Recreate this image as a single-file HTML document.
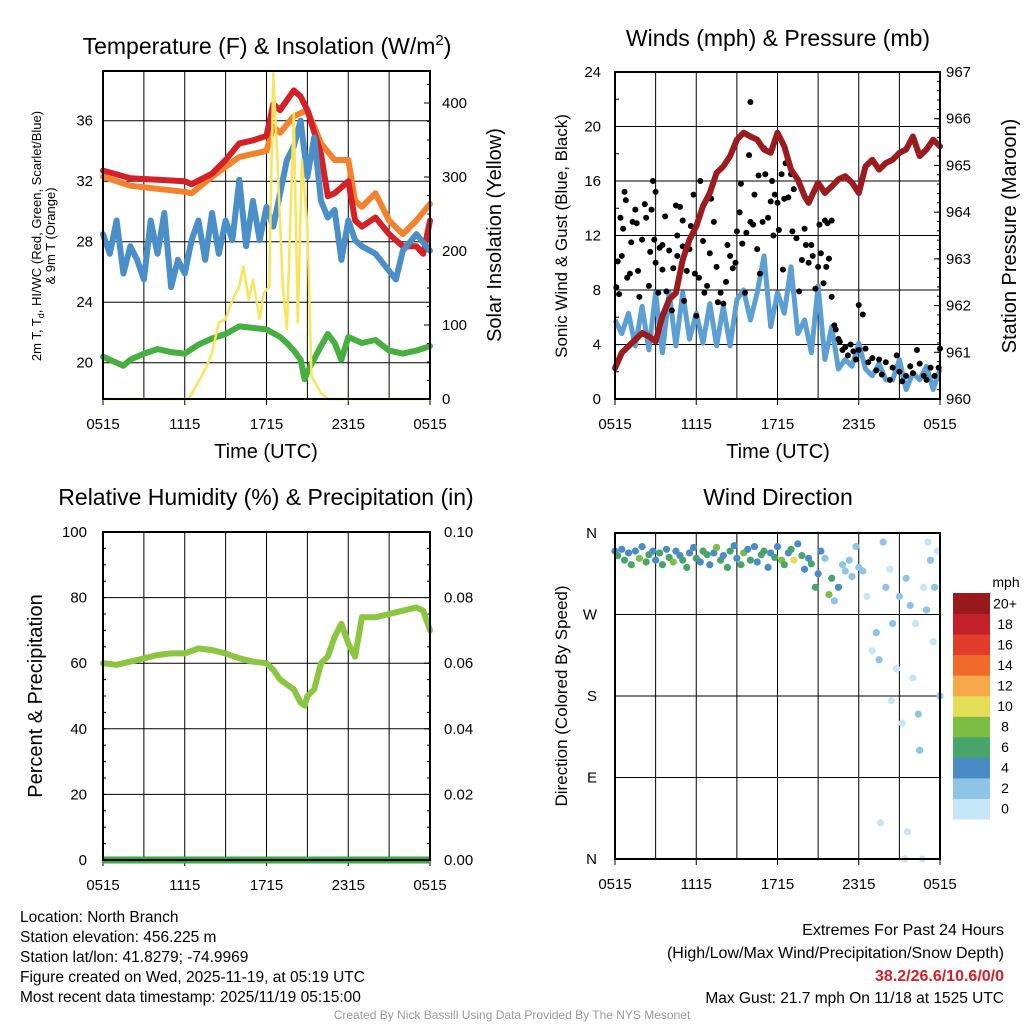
<!DOCTYPE html>
<html><head><meta charset="utf-8">
<style>
html,body{margin:0;padding:0;background:#fff;}
svg{display:block;font-family:"Liberation Sans",sans-serif;}
</style></head>
<body>
<svg id="c" width="1024" height="1024" viewBox="0 0 1024 1024" xmlns="http://www.w3.org/2000/svg"></svg>
<script>
// ---------- Panel 1 data (hour since 0515, value) ----------
const tempHours=[0,2,4,6,6.5,8,9,10,11,12,12.5,13,14,14.5,15,16,16.5,17,18,18.5,19,20,21,22,23,23.5,24];
const tempRed=[32.7,32.2,32.1,32.0,31.8,32.5,33.4,34.5,34.7,35.0,37.1,36.7,38.0,37.6,36.7,33.8,31.0,31.2,32.0,29.4,29.0,29.6,28.5,27.7,27.7,27.2,29.4];
const heatOrangeHours=[0,2,4,6,6.5,8,10,12,12.5,13,14,15,16,17,18,18.5,19,20,21,22,23,24];
const heatOrange=[32.3,31.7,31.5,31.3,31.2,32.3,33.6,34.0,35.6,35.2,36.3,36.7,34.5,33.4,33.4,30.7,30.3,31.2,29.4,28.5,29.4,30.5];
const blueHours=[0,0.5,1,1.5,2,2.5,3,3.5,4,4.5,5,5.5,6,6.5,7,7.5,8,8.5,9,9.5,10,10.5,11,11.5,12,12.5,13,13.5,14,14.5,15,15.5,16,16.5,17,17.5,18,18.5,19,20,21.5,22,23,24];
const blueT=[28.5,27.2,29.4,25.9,27.7,26.8,25.5,29.4,27.2,29.9,25.0,26.8,25.9,28.1,29.4,26.8,29.9,27.2,29.4,28.1,32.1,27.7,30.7,28.1,30.3,29.0,31.2,33.4,34.3,36.0,32.3,34.9,30.7,29.6,30.1,26.8,29.4,28.1,27.7,27.2,25.5,27.4,28.5,27.4];
const greenHours=[0,1,1.5,2,3,4,5,6,7,8,9,10,11,12,13,13.5,14,14.5,14.8,15,16,16.5,17,17.5,18,19,20,21,22,23,24];
const greenT=[20.4,20.0,19.8,20.2,20.6,20.9,20.7,20.6,21.2,21.6,21.9,22.4,22.3,22.2,21.7,21.3,20.8,20.2,18.9,19.4,21.1,21.9,21.3,20.2,21.7,21.3,21.5,20.8,20.6,20.8,21.1];
const solarHours=[0,6.3,6.7,7.5,8,8.5,9,9.5,10,10.3,10.7,11,11.5,11.8,12.2,12.5,12.8,13.2,13.5,14,14.3,14.6,15,15.3,16,16.5,24];
const solarW=[0,0,13,40,62,103,108,134,152,179,134,161,108,143,152,440,323,152,94,386,103,323,233,31,8,0,0];
const p1LeftTicks=[20,24,28,32,36];
const p1RightTicks=[0,100,200,300,400];
const timeTickLabels=["0515","1115","1715","2315","0515"];
// ---------- Panel 2 data ----------
const presHours=[0,0.5,1,2,2.5,3,3.5,4,4.5,5,5.5,6,6.5,7,7.5,8,8.5,9,9.5,10,10.5,11,11.5,12,12.5,13,13.5,14,14.3,15,15.5,16,16.5,17,17.5,18,18.5,19,19.5,20,20.5,21,21.5,22,22.5,23,23.5,24];
const presMb=[960.66,960.99,961.13,961.41,961.34,961.23,961.77,962.13,962.27,962.98,963.41,963.7,964.13,964.41,964.84,964.98,965.2,965.55,965.7,965.62,965.55,965.34,965.27,965.7,965.41,964.91,964.7,964.34,964.2,964.63,964.41,964.55,964.7,964.77,964.63,964.41,964.98,965.12,964.91,965.05,965.12,965.27,965.34,965.62,965.2,965.34,965.55,965.41];
const windHours=[0,0.5,1,1.5,2,2.5,3,3.5,4,4.5,5,5.5,6,6.5,7,7.5,8,8.5,9,9.5,10,10.5,11,11.5,12,12.5,13,13.5,14,14.5,15,15.5,16,16.5,17,17.5,18,18.5,19,19.5,20,20.5,21,21.5,22,22.5,23,23.5,24];
const windMph=[5.8,4.8,6.3,3.9,6.8,3.6,7.8,3.4,7.8,3.9,7.8,4.4,6.3,4.1,7.0,3.9,6.8,3.9,7.3,8.0,5.8,7.8,10.5,5.3,7.8,6.3,9.7,4.8,5.8,3.4,8.3,2.9,5.3,2.2,2.9,2.4,4.1,2.2,1.7,2.6,1.4,1.4,2.9,0.7,1.9,1.4,2.4,0.7,2.2];
const gustHours=[0.1,0.2,0.3,0.4,0.5,0.6,0.7,0.8,0.9,1.1,1.2,1.3,1.5,1.6,1.7,1.8,2,2.2,2.3,2.5,2.6,2.7,2.8,2.9,3,3,3.2,3.3,3.5,3.5,3.7,3.8,4,4.2,4.3,4.5,4.6,4.6,4.8,5,5,5.1,5.3,5.5,5.6,5.8,5.9,6,6.2,6.3,6.5,6.6,6.8,7,7.1,7.3,7.5,7.6,7.8,8,8.2,8.3,8.5,8.7,8.9,9,9.2,9.3,9.4,9.6,9.7,9.9,10,10,10.2,10.3,10.5,10.6,10.7,10.9,11,11.1,11.3,11.5,11.6,11.7,11.8,12,12.1,12.3,12.4,12.5,12.6,12.8,13,13.1,13.2,13.4,13.6,13.8,14,14.1,14.3,14.5,14.6,14.8,15,15.1,15.2,15.4,15.5,15.6,15.7,15.8,16,16,16.2,16.3,16.5,16.6,16.8,17,17.2,17.4,17.6,17.8,18,18,18.3,18.5,18.7,19,19.3,19.5,19.7,20,20.3,20.5,20.8,21,21.2,21.5,21.8,22,22.3,22.5,22.8,23,23.3,23.6,23.9,24];
const gustMph=[8.2,10.1,7.7,13.3,10.5,12.5,15.2,14.6,8.9,9.2,11.5,13,13.9,12.9,9.4,7.5,11.7,14.3,13.3,8.3,10.8,13.9,16.0,11.7,15.2,10,7.8,11.1,9.5,11.3,13.4,7.9,10.9,6.5,9.6,14.2,12.0,10.5,14.1,13.1,11.2,7.2,9.4,11.0,12.7,15.0,9.2,6.1,8.9,16.0,11.6,7.8,8.3,10.7,14.7,13.0,9.7,7.1,7.8,7.0,8.6,11.3,10.5,9.6,10.0,12.3,13.7,15.8,11.4,7.8,12.2,17.9,13.0,21.8,12.8,15.0,11.0,16.4,9.2,13.0,18.4,16.5,13.3,14.5,16.0,12.0,15.0,14.4,12.4,16.5,9.5,14.7,17.3,14.8,16.5,12.3,15.4,11.8,7.9,10.2,12.5,11.3,10.0,11.3,10.5,8.1,9.7,12.8,10.7,8.5,13.1,9.7,12.9,10.3,13.1,7.5,5.4,5.1,4.4,4.2,3.6,3.8,3.2,4.0,3.5,2.9,3.6,6.9,6.2,3.7,2.7,3.0,2.1,2.9,1.8,2.7,1.4,2.3,3.2,2.0,1.3,1.7,2.4,1.9,3.6,2.6,1.7,1.4,2.3,1.7,2.3,3.7];
const p2LeftTicks=[0,4,8,12,16,20,24];
const p2RightTicks=[960,961,962,963,964,965,966,967];
// ---------- Panel 3 data ----------
const rhHours=[0,1,2,3,4,5,6,7,8,9,10,11,12,12.5,13,14,14.5,14.8,15,15.5,16,16.5,17,17.5,18,18.5,19,20,21,22,23,23.5,24];
const rhPct=[60,59.5,60.5,61.5,62.5,63,63,64.5,64,63,61.5,60.5,60,58,55,52,48,47,50,52,60,62,68,72,66,62,74,74,75,76,77,76,70];
const precipHours=[0,24];
const precipIn=[0,0];
const p3LeftTicks=[0,20,40,60,80,100];
const p3RightTicks=["0.00","0.02","0.04","0.06","0.08","0.10"];
// ---------- Panel 4 data ----------
const dirHours=[0,0.2,0.5,0.7,1,1.2,1.5,1.8,2,2.3,2.5,2.8,3,3.3,3.5,3.8,4,4.3,4.5,4.8,5,5.3,5.5,5.8,6,6.3,6.5,6.8,7,7.3,7.5,7.8,8,8.3,8.5,8.8,9,9.3,9.5,9.8,10,10.3,10.5,10.8,11,11.3,11.5,11.8,12,12.3,12.5,12.8,13,13.2,13.5,13.8,14,14.3,14.5,14.8,15,15.2,15.5,15.8,16,16.2,16.5,16.8,17,17.3,17.5,17.8,18,18.3,18.6,19,19.3,19.5,19.8,20,20.3,20.5,20.8,21,21.2,21.5,21.8,22,22.2,22.5,22.8,23,23.3,23.5,23.8,24,19.6,20.4,21.6,22.4,23.1,23.6,21.4,22.7];
const dirDeg=[340,335,342,330,338,325,340,332,345,328,336,340,330,338,325,342,333,328,340,335,330,322,338,344,332,328,340,336,325,338,344,330,335,322,340,346,332,325,338,342,330,345,328,336,340,322,338,333,345,330,325,338,342,330,348,335,320,332,326,300,315,340,332,292,310,285,300,325,318,330,312,345,322,318,290,230,250,220,350,300,320,260,210,290,150,310,280,200,260,120,300,275,330,240,340,180,40,175,30,160,350,300,0,0];
const dirSpeed=[5,6,5,7,4,6,5,8,5,6,7,5,4,6,7,5,6,8,5,4,6,7,5,4,6,5,7,6,4,5,8,6,5,7,6,4,5,6,8,5,7,4,5,6,7,5,4,6,5,8,6,5,7,10,4,6,5,4,6,7,5,4,3,8,6,3,4,3,2,3,2,3,2,2,1,1,3,2,3,2,1,2,1,2,1,3,2,1,1,2,1,2,2,1,1,2,1,1,1,2,1,3,1,1];
const dirTickLabels=["N","W","S","E","N"];
const speedBins=["0","2","4","6","8","10","12","14","16","18","20+"];
const speedColors=["#c4e6f7","#8ec4e6","#4a8cc6","#48a56a","#7dbd43","#e3de55","#f7a949","#f06a2b","#e23d2b","#c2202a","#9a191c"];

// ---------- helpers ----------
const svg=document.getElementById('c');
const NS="http://www.w3.org/2000/svg";
function mk(tag,attrs,parent){const e=document.createElementNS(NS,tag);for(const k in attrs)e.setAttribute(k,attrs[k]);(parent||svg).appendChild(e);return e;}
function txt(s,x,y,size,anchor,parent,extra){const t=mk('text',Object.assign({x:x,y:y,'font-size':size,'text-anchor':anchor||'middle',fill:'#000'},extra||{}),parent);t.textContent=s;return t;}
function lineScale(d0,d1,r0,r1){return v=>r0+(v-d0)/(d1-d0)*(r1-r0);}
function pathFrom(xs,ys,fx,fy){let d='';for(let i=0;i<xs.length;i++){d+=(i?'L':'M')+fx(xs[i]).toFixed(1)+','+fy(ys[i]).toFixed(1);}return d;}

function frame(L,T,R,B,g){
  // vertical grid every 3h
  const fx=lineScale(0,24,L,R);
  for(let h=3;h<24;h+=3){const l=mk('line',{x1:fx(h),y1:T,x2:fx(h),y2:B,stroke:'#000','stroke-width':1},g);}
  // x tick labels
  for(let i=0;i<timeTickLabels.length;i++){const h=i*6;mk('line',{x1:fx(h),y1:B,x2:fx(h),y2:B+6,stroke:'#000'},g);
    const t=txt(timeTickLabels[i],fx(h),B+30,15,'middle',g);
    
    }
  return fx;
}
function border(L,T,R,B,g){mk('rect',{x:L,y:T,width:R-L,height:B-T,fill:'none',stroke:'#000','stroke-width':2},g);}

// ================= Panel 1 =================
(function(){
  const L=103,T=71,R=430,B=399;
  const g=mk('g',{});
  const fx=frame(L,T,R,B,g);
  const fy=lineScale(20,36,362.7,120.7);
  const fs=lineScale(0,400,399,103);
  p1LeftTicks.forEach(v=>{mk('line',{x1:L,y1:fy(v),x2:R,y2:fy(v),stroke:'#000','stroke-width':1},g);
    const t=txt(String(v),L-10,fy(v)+5,15,'end',g);});
  p1RightTicks.forEach(v=>{mk('line',{x1:R-6,y1:fs(v),x2:R,y2:fs(v),stroke:'#000'},g);
    const t=txt(String(v),R+12,fs(v)+5,15,'start',g);});
  for(let v=25;v<440;v+=25){mk('line',{x1:R-3,y1:fs(v),x2:R,y2:fs(v),stroke:'#000'},g);}
  const style={fill:'none','stroke-width':6,'stroke-linejoin':'round','stroke-linecap':'round'};
  const ps=[["temp-2m-line",tempHours,tempRed,'#d42027',fy],["heat-index-line",heatOrangeHours,heatOrange,'#f4812c',fy],["dewpoint-line",blueHours,blueT,'#4a8fc7',fy],["temp-9m-line",greenHours,greenT,'#45b03f',fy]];
  // orange drawn under red
  const order=[1,0,2,3];
  order.forEach(i=>{const s=ps[i];const p=mk('path',Object.assign({d:pathFrom(s[1],s[2],fx,s[4]),stroke:s[3]},style),g);});
  const sp=mk('path',{d:pathFrom(solarHours,solarW,fx,fs),fill:'none',stroke:'#fbe45c','stroke-width':2.5,'stroke-linejoin':'round'},g);
  
  border(L,T,R,B,g);
  const t=mk('text',{x:267,y:54,'font-size':23,'text-anchor':'middle',},g);
  t.innerHTML='Temperature (F) &amp; Insolation (W/m<tspan dy="-9" font-size="15">2</tspan><tspan dy="9">)</tspan>';
  txt('Time (UTC)',266,458,20,'middle',g,{});
  const y1=mk('text',{x:0,y:0,'font-size':13,'text-anchor':'middle',transform:'translate(41,236) rotate(-90)',},g);
  y1.innerHTML='2m T, T<tspan dy="3" font-size="9">d</tspan><tspan dy="-3">, HI/WC (Red, Green, Scarlet/Blue)</tspan>';
  txt('& 9m T (Orange)',0,0,13,'middle',g,{transform:'translate(55,236) rotate(-90)',});
  txt('Solar Insolation (Yellow)',0,0,20,'middle',g,{transform:'translate(501,235) rotate(-90)',});
})();

// ================= Panel 2 =================
(function(){
  const L=615,T=72,R=940,B=399;
  const g=mk('g',{});
  const fx=frame(L,T,R,B,g);
  const fy=lineScale(0,24,399,72);
  const fp=lineScale(960,967,399,72);
  p2LeftTicks.forEach(v=>{if(v>0&&v<24)mk('line',{x1:L,y1:fy(v),x2:R,y2:fy(v),stroke:'#000'},g);
    const t=txt(String(v),L-14,fy(v)+5,15,'end',g);});
  for(let v=2;v<24;v+=4)mk('line',{x1:L,y1:fy(v),x2:L+4,y2:fy(v),stroke:'#000'},g);
  p2RightTicks.forEach(v=>{mk('line',{x1:R-6,y1:fp(v),x2:R,y2:fp(v),stroke:'#000'},g);
    const t=txt(String(v),R+6,fp(v)+5,15,'start',g);});
  for(let v=960.2;v<967;v+=0.2)mk('line',{x1:R-3,y1:fp(v),x2:R,y2:fp(v),stroke:'#000'},g);
  const wp=mk('path',{d:pathFrom(windHours,windMph,fx,fy),fill:'none',stroke:'#5b9fd4','stroke-width':5,'stroke-linejoin':'round'},g);
  
  for(let i=0;i<gustHours.length;i++){const c=mk('circle',{cx:fx(gustHours[i]),cy:fy(gustMph[i]),r:3,fill:'#000'},g);
    }
  const pp=mk('path',{d:pathFrom(presHours,presMb,fx,fp),fill:'none',stroke:'#9b1b1e','stroke-width':6,'stroke-linejoin':'round','stroke-linecap':'round'},g);
  
  border(L,T,R,B,g);
  txt('Winds (mph) & Pressure (mb)',778,46,23,'middle',g,{});
  txt('Time (UTC)',778,458,20,'middle',g,{});
  txt('Sonic Wind & Gust (Blue, Black)',0,0,17,'middle',g,{transform:'translate(567,236) rotate(-90)',});
  txt('Station Pressure (Maroon)',0,0,20,'middle',g,{transform:'translate(1016,236) rotate(-90)',});
})();

// ================= Panel 3 =================
(function(){
  const L=103,T=532,R=430,B=860;
  const g=mk('g',{});
  const fx=frame(L,T,R,B,g);
  const fy=lineScale(0,100,860,532);
  const fpr=lineScale(0,0.1,860,532);
  p3LeftTicks.forEach(v=>{if(v>0&&v<100)mk('line',{x1:L,y1:fy(v),x2:R,y2:fy(v),stroke:'#000'},g);
    const t=txt(String(v),L-16,fy(v)+5,15,'end',g);});
  p3RightTicks.forEach((s,i)=>{const y=fy(i*20);mk('line',{x1:R-6,y1:y,x2:R,y2:y,stroke:'#000'},g);
    const t=txt(s,R+14,y+5,15,'start',g);});
  for(let v=5;v<100;v+=5){mk('line',{x1:L,y1:fy(v),x2:L+3,y2:fy(v),stroke:'#000'},g);mk('line',{x1:R-3,y1:fy(v),x2:R,y2:fy(v),stroke:'#000'},g);}
  const rp=mk('path',{d:pathFrom(rhHours,rhPct,fx,fy),fill:'none',stroke:'#8cc540','stroke-width':6,'stroke-linejoin':'round','stroke-linecap':'round'},g);
  
  const pr=mk('path',{d:pathFrom(precipHours,precipIn,fx,fpr),fill:'none',stroke:'#3da546','stroke-width':7},g);
  
  border(L,T,R,B,g);
  txt('Relative Humidity (%) & Precipitation (in)',266,505,23,'middle',g,{});
  txt('Percent & Precipitation',0,0,20,'middle',g,{transform:'translate(42,696) rotate(-90)',});
})();

// ================= Panel 4 =================
(function(){
  const L=615,T=533,R=940,B=859;
  const g=mk('g',{});
  const fx=frame(L,T,R,B,g);
  const fy=lineScale(0,360,859,533);
  dirTickLabels.forEach((s,i)=>{const deg=360-i*90;const y=fy(deg);
    if(i>0&&i<4)mk('line',{x1:L,y1:y,x2:R,y2:y,stroke:'#000'},g);
    const t=txt(s,L-18,y+5,15,'end',g);});
  for(let i=0;i<dirHours.length;i++){const b=Math.min(10,Math.floor(dirSpeed[i]/2));
    const c=mk('circle',{cx:fx(dirHours[i]),cy:fy(dirDeg[i]),r:3.6,fill:speedColors[b]},g);
    }
  border(L,T,R,B,g);
  txt('Wind Direction',778,505,23,'middle',g,{});
  txt('Direction (Colored By Speed)',0,0,17,'middle',g,{transform:'translate(567,696) rotate(-90)',});
  // colorbar
  const cb=mk('g',{});
  const cbT=593,cbB=819,h=(cbB-cbT)/speedBins.length;
  for(let i=0;i<speedBins.length;i++){const y=cbB-(i+1)*h;
    const r=mk('rect',{x:953,y:y,width:37,height:h+0.5,fill:speedColors[i]},cb);
    
    const t=txt(speedBins[i],1005,y+h/2+5,14,'middle',cb);}
  txt('mph',1006,587,14,'middle',cb,{});
})();

// ================= Footer =================
(function(){
  const g=mk('g',{});
  const lines=["Location: North Branch","Station elevation: 456.225 m","Station lat/lon: 41.8279; -74.9969","Figure created on Wed, 2025-11-19, at 05:19 UTC","Most recent data timestamp: 2025/11/19 05:15:00"];
  lines.forEach((s,i)=>txt(s,20,922+i*20,15.5,'start',g));
  const g2=mk('g',{});
  txt('Extremes For Past 24 Hours',1004,935,16,'end',g2);
  txt('(High/Low/Max Wind/Precipitation/Snow Depth)',1004,958,16,'end',g2);
  txt('38.2/26.6/10.6/0/0',1004,981,16,'end',g2,{fill:'#d42027','font-weight':'bold'});
  txt('Max Gust: 21.7 mph On 11/18 at 1525 UTC',1004,1003,15.5,'end',g2);
  txt('Created By Nick Bassill Using Data Provided By The NYS Mesonet',512,1019,12,'middle',svg,{fill:'#999',});
})();
</script>
</body></html>
